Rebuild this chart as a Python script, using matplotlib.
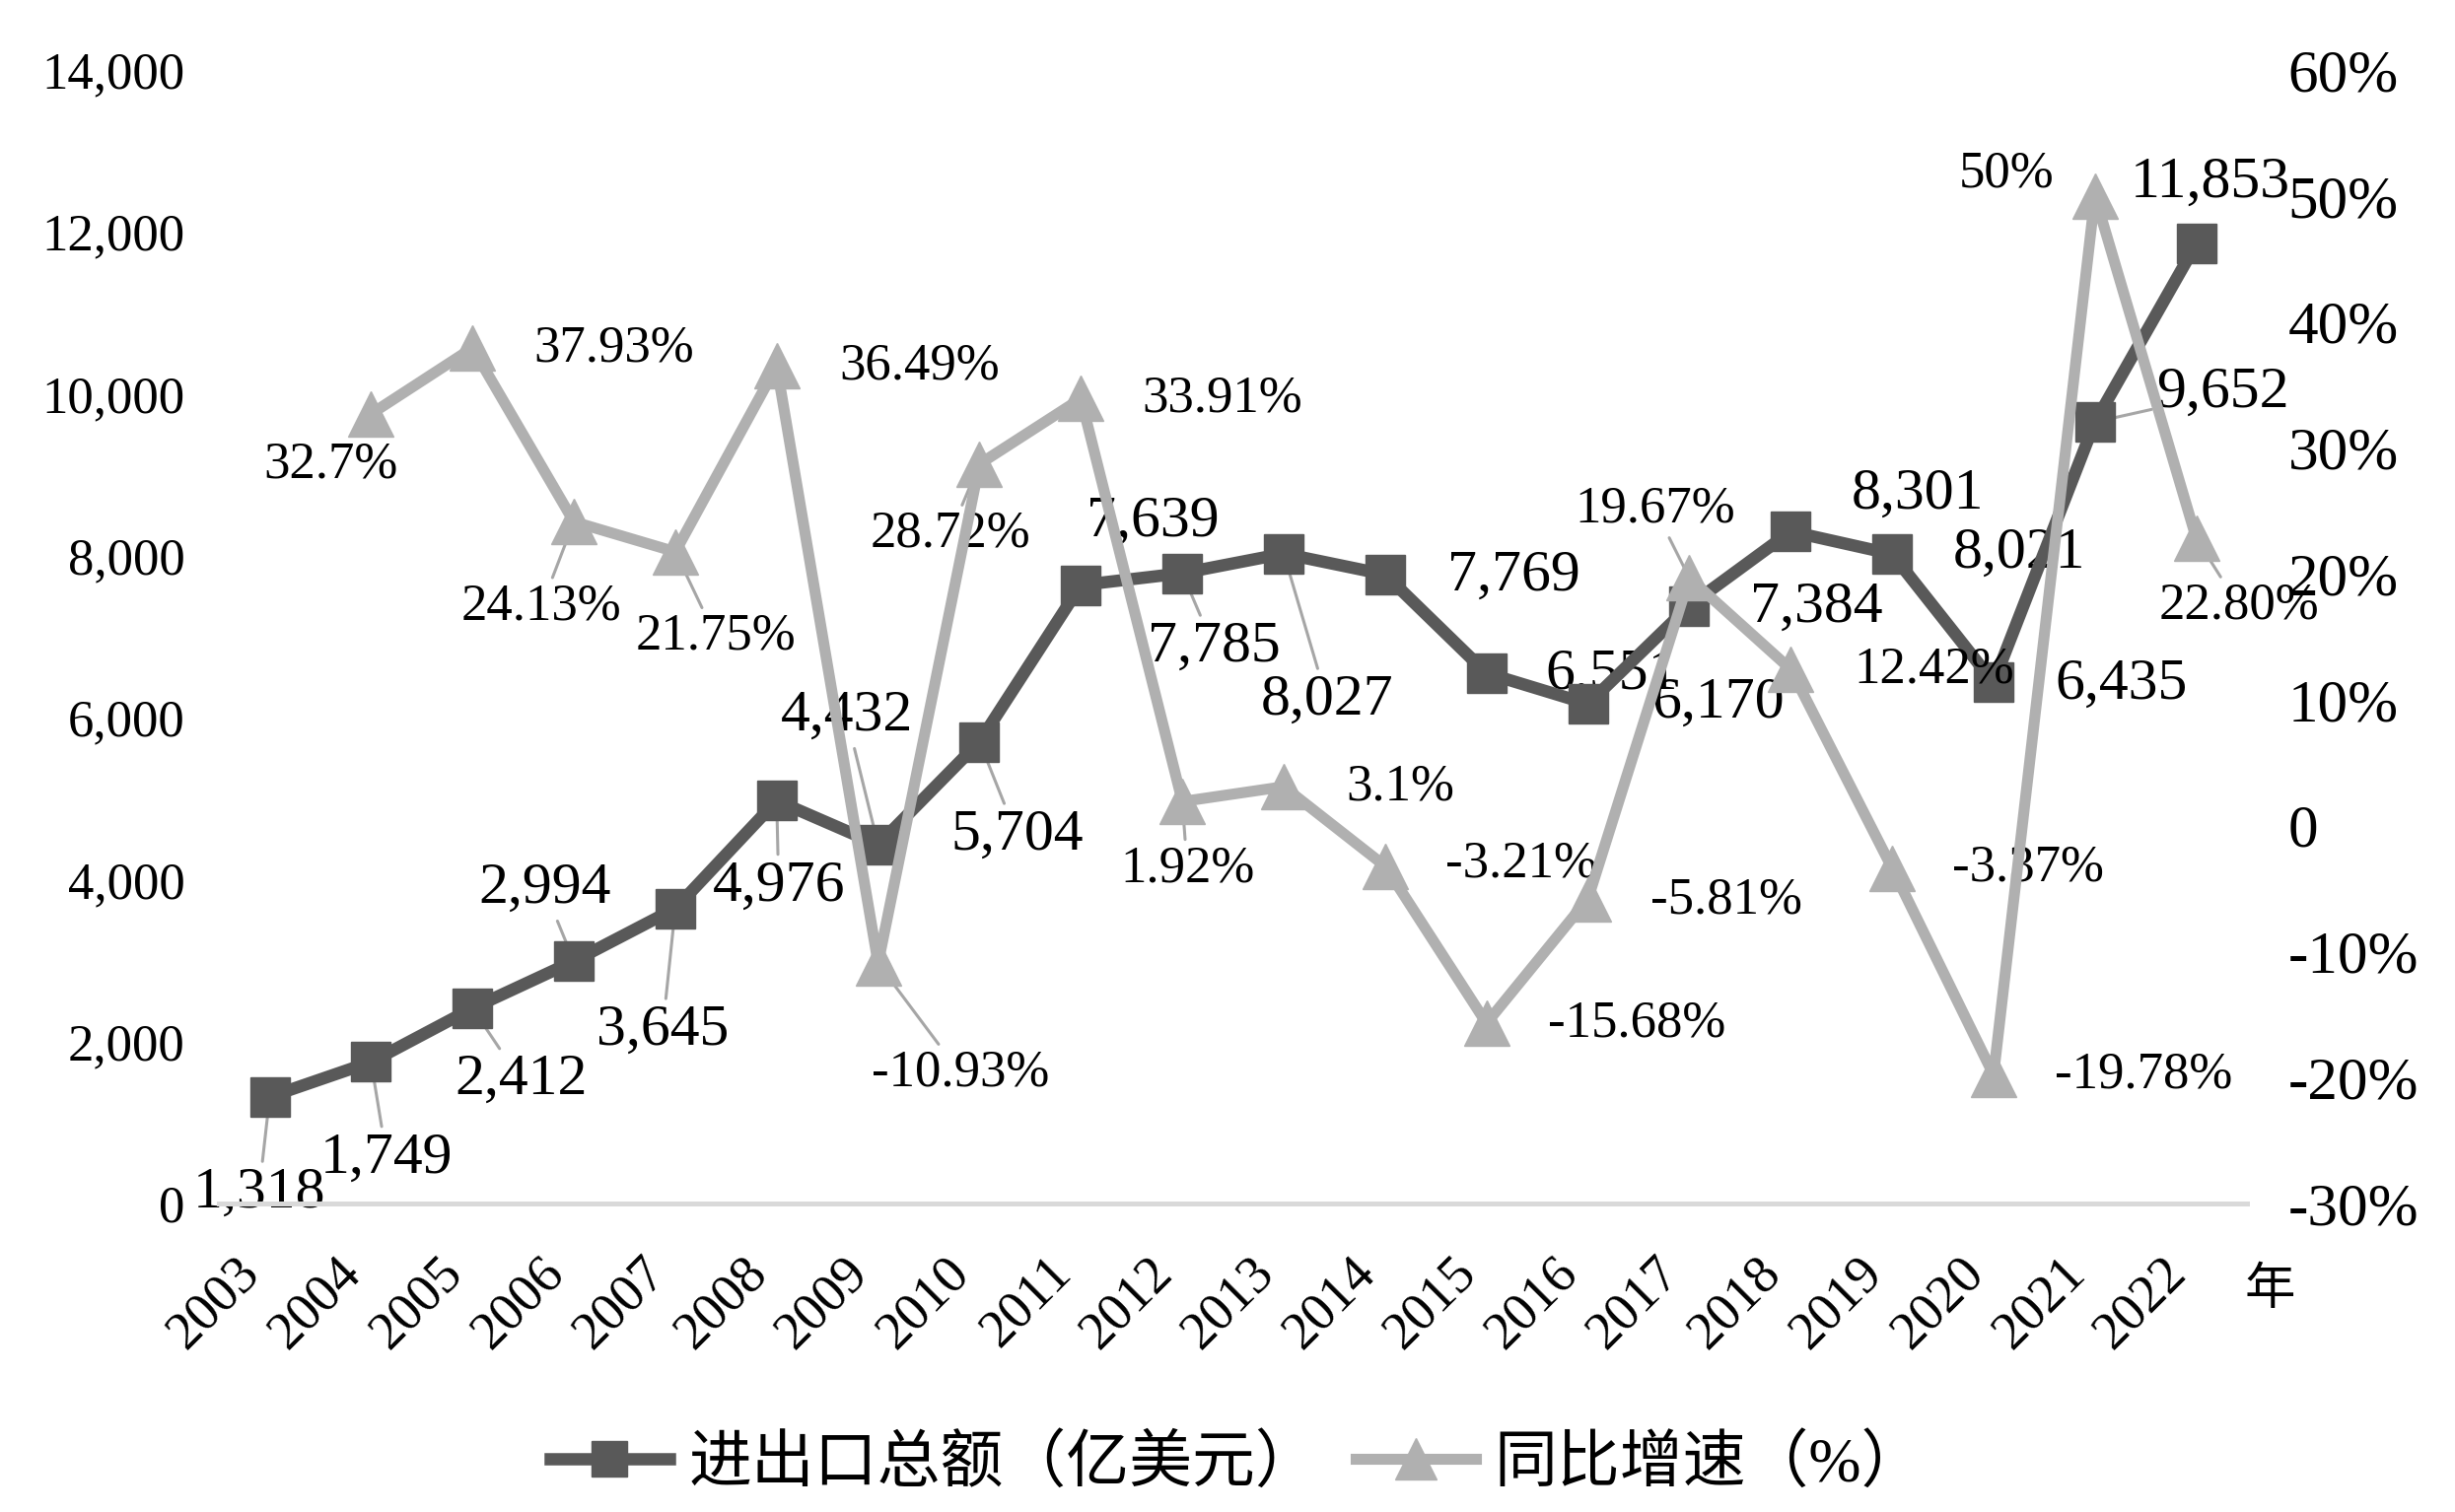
import numpy as np
import matplotlib
matplotlib.use("Agg")
import matplotlib.pyplot as plt

plt.rcParams['font.family'] = ['Liberation Serif', 'Noto Sans CJK SC', 'DejaVu Sans']

years = [str(y) for y in range(2003, 2023)]
trade_total = [1318, 1749, 2412, 2994, 3645, 4976, 4432, 5704, 7639, 7785,
               8027, 7769, 6551, 6170, 7384, 8301, 8021, 6435, 9652, 11853]
growth = [np.nan, 32.7, 37.93, 24.13, 21.75, 36.49, -10.93, 28.72, 33.91, 1.92,
          3.1, -3.21, -15.68, -5.81, 19.67, 12.42, -3.37, -19.78, 50.0, 22.80]
growth_text = ['', '32.7%', '37.93%', '24.13%', '21.75%', '36.49%', '-10.93%',
               '28.72%', '33.91%', '1.92%', '3.1%', '-3.21%', '-15.68%', '-5.81%',
               '19.67%', '12.42%', '-3.37%', '-19.78%', '50%', '22.80%']
left_ticks = [0, 2000, 4000, 6000, 8000, 10000, 12000, 14000]
right_ticks = [-30, -20, -10, 0, 10, 20, 30, 40, 50, 60]

# label offsets (pixels, x right / y up) and whether a leader line is drawn
total_off = [(-11, -98), (16, -98), (49, -73), (-30, 73), (-13, -124), (2, -87),
             (-32, 130), (38, -95), (73, 64), (32, -75), (44, -149), (130, -2),
             (127, -2), (132, 0), (129, -2), (129, 37), (129, 0), (130, -2),
             (130, 29), (14, 62)]
total_lead = [1, 1, 1, 1, 1, 1, 1, 1, 0, 1, 1, 0, 0, 0, 0, 0, 0, 0, 1, 0]
growth_off = [(0, 0), (-41, -52), (143, 0), (-33, -86), (41, -86), (145, 0),
              (83, -111), (-30, -71), (143, 0), (5, -68), (118, 0), (138, 2),
              (152, 0), (140, -2), (-35, 70), (145, 0), (138, 0), (152, 0),
              (-90, 22), (43, -68)]
growth_lead = [0, 0, 0, 1, 1, 0, 1, 1, 0, 1, 0, 0, 0, 0, 1, 0, 0, 0, 0, 1]

dark = '#595959'
light = '#b0b0b0'
lead_c = '#a6a6a6'

fig = plt.figure(figsize=(24.9, 15.34), dpi=100)
ax = fig.add_axes([0.0892, 0.204, 0.8261, 0.7497])
ax2 = ax.twinx()

x = np.arange(len(years))
l1, = ax.plot(x, trade_total, color=dark, lw=9, marker='s', ms=29,
              label='进出口总额（亿美元）', zorder=3)
l2, = ax2.plot(x, growth, color=light, lw=8, marker='^', ms=33,
               label='同比增速（%）', zorder=3)

ax.set_xlim(-0.5, len(years) - 0.5)
ax.set_ylim(0, 14000)
ax2.set_ylim(-30, 60)
ax.set_yticks(left_ticks)
ax.set_yticklabels([f'{v:,}' for v in left_ticks], fontsize=38)
ax2.set_yticks(right_ticks)
ax2.set_yticklabels([f'{v}%' if v != 0 else '0' for v in right_ticks], fontsize=44)
ax.set_xticks(x)
ax.set_xticklabels(years, rotation=45, ha='right', fontsize=39)

for a in (ax, ax2):
    for s in ('top', 'left', 'right'):
        a.spines[s].set_visible(False)
    a.spines['bottom'].set_color('#d9d9d9')
    a.spines['bottom'].set_linewidth(3.6)
ax.tick_params(axis='y', length=0, pad=25)
ax2.tick_params(axis='y', length=0, pad=30)
ax.tick_params(axis='x', length=0, pad=32)

for i, v in enumerate(trade_total):
    arrow = dict(arrowstyle='-', color=lead_c, lw=2.2, shrinkA=2, shrinkB=0) if total_lead[i] else None
    ax.annotate(f'{v:,}', (x[i], v), xytext=total_off[i], textcoords='offset pixels',
                ha='center', va='center', fontsize=43, arrowprops=arrow, zorder=2)

for i, v in enumerate(growth):
    if np.isnan(v):
        continue
    arrow = dict(arrowstyle='-', color=lead_c, lw=2.2, shrinkA=2, shrinkB=0) if growth_lead[i] else None
    ax2.annotate(growth_text[i], (x[i], v), xytext=growth_off[i], textcoords='offset pixels',
                 ha='center', va='center', fontsize=38, arrowprops=arrow, zorder=2)

fig.text(0.9245, 0.146, '年', fontsize=37, ha='center', va='center')

fig.legend(handles=[l1, l2], loc='center', bbox_to_anchor=(0.504, 0.031), ncol=2,
           frameon=False, fontsize=46, handlelength=1.9, handletextpad=0.3,
           columnspacing=0.6, markerscale=0.9)

fig.savefig('out.png', dpi=100)
